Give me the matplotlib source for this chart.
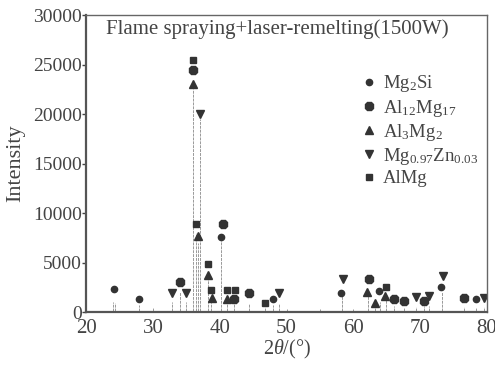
import matplotlib
matplotlib.use("Agg")
import matplotlib.pyplot as plt

# XRD stick pattern (2theta, intensity)
peak_pos = [24.0, 24.3, 27.9, 30.0, 32.9, 34.1, 35.0, 36.0, 36.5, 36.8, 37.1, 38.2, 38.7,
            40.2, 41.1, 42.2, 44.3, 46.8, 47.9, 48.9, 50.0, 55.0, 58.3, 60.0, 62.2, 63.3,
            64.0, 64.8, 66.0, 67.5, 69.3, 70.5, 71.3, 73.2, 76.5, 78.3, 79.5]
peak_int = [1000, 900, 700, 400, 1000, 2000, 1000, 22500, 8000, 7000, 19500, 3300, 1000,
            7300, 900, 800, 800, 500, 700, 800, 350, 300, 1700, 350, 1600, 500,
            1000, 1200, 600, 400, 500, 600, 600, 2000, 500, 400, 500]

# phase markers
mg2si_x = [24.2, 27.9, 40.2, 47.9, 58.2, 63.9, 73.1, 78.3]
mg2si_y = [2330, 1320, 7600, 1320, 1930, 2130, 2530, 1320]
al12mg17_x = [34.1, 36.0, 40.5, 42.2, 44.3, 62.3, 66.0, 67.5, 70.5, 76.5]
al12mg17_y = [3040, 24400, 8900, 1320, 1930, 3340, 1320, 1110, 1110, 1420]
al3mg2_x = [36.0, 36.8, 38.2, 38.9, 41.1, 62.1, 63.3, 64.7]
al3mg2_y = [23000, 7700, 3750, 1420, 1320, 2020, 910, 1620]
mgzn_x = [32.9, 35.0, 37.1, 48.9, 58.4, 69.3, 71.3, 73.4, 79.5]
mgzn_y = [1930, 1930, 19960, 1930, 3340, 1520, 1620, 3650, 1420]
almg_x = [36.0, 36.4, 38.2, 38.7, 41.1, 42.3, 46.8, 64.8]
almg_y = [25500, 8900, 4860, 2230, 2230, 2230, 910, 2530]

labels = ["Mg$_2$Si", "Al$_{12}$Mg$_{17}$", "Al$_3$Mg$_2$",
          "Mg$_{0.97}$Zn$_{0.03}$", "AlMg"]

plt.rcParams['font.family'] = ['Liberation Serif', 'DejaVu Serif']
plt.rcParams['mathtext.fontset'] = 'custom'
plt.rcParams['mathtext.rm'] = 'Liberation Serif'
plt.rcParams['mathtext.it'] = 'Liberation Serif:italic'
ink = '#444444'

fig = plt.figure(figsize=(4.95, 3.66), dpi=100)
ax = fig.add_axes([0.174, 0.1475, 0.81, 0.8115])

ax.vlines(peak_pos, 150, peak_int, color='#999999', lw=0.7, linestyles=(0, (3, 1)))
ax.axhline(150, color='#888888', lw=0.7)

mk = dict(color='#333333', linestyle='none')
ax.plot(mg2si_x, mg2si_y, 'o', ms=4.5, label=labels[0], **mk)
ax.plot(al12mg17_x, al12mg17_y, '8', ms=6.5, label=labels[1], **mk)
ax.plot(al3mg2_x, al3mg2_y, '^', ms=6, label=labels[2], **mk)
ax.plot(mgzn_x, mgzn_y, 'v', ms=6, label=labels[3], **mk)
ax.plot(almg_x, almg_y, 's', ms=4.5, label=labels[4], **mk)

ax.set_xlim(20, 80)
ax.set_ylim(0, 30000)
ax.set_xticks([20, 30, 40, 50, 60, 70, 80])
ax.set_yticks([0, 5000, 10000, 15000, 20000, 25000, 30000])
ax.tick_params(axis='x', length=0, labelsize=15, colors=ink, pad=5)
ax.tick_params(axis='y', length=3, width=1, direction='out', labelsize=14, colors=ink, pad=0)
for s in ['left', 'bottom']:
    ax.spines[s].set_linewidth(1.6)
    ax.spines[s].set_color('#555555')
for s in ['top', 'right']:
    ax.spines[s].set_linewidth(1.0)
    ax.spines[s].set_color('#666666')

ax.set_ylabel("Intensity", fontsize=16, color=ink, labelpad=6)
ax.set_xlabel(r"2$\it{\theta}$/(°)", fontsize=14.5, color=ink, labelpad=0)
ax.text(0.05, 0.985, "Flame spraying+laser-remelting(1500W)", transform=ax.transAxes,
        fontsize=15, color=ink, va='top', ha='left')

leg = ax.legend(loc='upper left', bbox_to_anchor=(0.668, 0.835), frameon=False, fontsize=13.5,
                handlelength=0.6, handletextpad=0.45, labelspacing=0.17, borderpad=0)
for t in leg.get_texts():
    t.set_color(ink)

fig.savefig("out.png", dpi=100)
